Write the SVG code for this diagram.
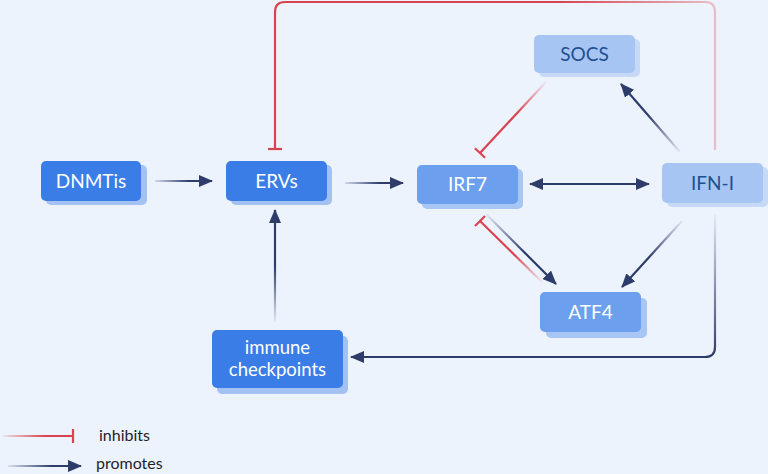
<svg xmlns="http://www.w3.org/2000/svg" width="768" height="474" viewBox="0 0 768 474">
<style>
.bg{fill:#EDF3FC}
.d{fill:#3A7DE6}.ds{fill:#A3C1F2}
.m{fill:#6C9FEE}.ms{fill:#A8C6F4}
.l{fill:#A7C5F3}.ls{fill:#C6D9F7}
.tw{font-family:Lato,"Open Sans","Liberation Sans",sans-serif;font-size:19px;fill:#FFFFFF;text-anchor:middle}
.tb{font-family:Lato,"Open Sans","Liberation Sans",sans-serif;font-size:19px;fill:#1F4F8E;text-anchor:middle}
.tc{font-family:Lato,"Open Sans","Liberation Sans",sans-serif;font-size:18.5px;fill:#FFFFFF;text-anchor:middle}
.lg{font-family:Lato,"Open Sans","Liberation Sans",sans-serif;font-size:16px;fill:#1E1E2A}
.e{fill:none;stroke-width:2.2}
</style>
<defs>
<marker id="ah" markerUnits="userSpaceOnUse" markerWidth="14" markerHeight="12" refX="13" refY="6" orient="auto-start-reverse" viewBox="0 0 14 12">
<path d="M0,0 L14,6 L0,12 Z" fill="#2D3C6A"/>
</marker>
<linearGradient id="g1" gradientUnits="userSpaceOnUse" x1="155" y1="181" x2="212" y2="181"><stop offset="0" stop-color="#2D3C6A" stop-opacity="0.15"/><stop offset="0.6" stop-color="#2D3C6A"/></linearGradient>
<linearGradient id="g2" gradientUnits="userSpaceOnUse" x1="345" y1="183" x2="403" y2="183"><stop offset="0" stop-color="#2D3C6A" stop-opacity="0.15"/><stop offset="0.6" stop-color="#2D3C6A"/></linearGradient>
<linearGradient id="g3" gradientUnits="userSpaceOnUse" x1="680" y1="152" x2="621" y2="84"><stop offset="0" stop-color="#2D3C6A" stop-opacity="0.05"/><stop offset="0.55" stop-color="#2D3C6A"/></linearGradient>
<linearGradient id="g4" gradientUnits="userSpaceOnUse" x1="546" y1="82" x2="480" y2="153"><stop offset="0" stop-color="#D9434F" stop-opacity="0.05"/><stop offset="0.45" stop-color="#D9434F"/></linearGradient>
<linearGradient id="g5" gradientUnits="userSpaceOnUse" x1="486" y1="214" x2="556" y2="284"><stop offset="0" stop-color="#2D3C6A" stop-opacity="0.05"/><stop offset="0.55" stop-color="#2D3C6A"/></linearGradient>
<linearGradient id="g6" gradientUnits="userSpaceOnUse" x1="542" y1="282" x2="480" y2="221"><stop offset="0" stop-color="#D9434F" stop-opacity="0.05"/><stop offset="0.45" stop-color="#D9434F"/></linearGradient>
<linearGradient id="g7" gradientUnits="userSpaceOnUse" x1="682" y1="221" x2="622" y2="287"><stop offset="0" stop-color="#2D3C6A" stop-opacity="0.05"/><stop offset="0.55" stop-color="#2D3C6A"/></linearGradient>
<linearGradient id="g8" gradientUnits="userSpaceOnUse" x1="275" y1="322" x2="275" y2="210"><stop offset="0" stop-color="#2D3C6A" stop-opacity="0.05"/><stop offset="0.5" stop-color="#2D3C6A"/></linearGradient>
<linearGradient id="g9" gradientUnits="userSpaceOnUse" x1="715" y1="215" x2="715" y2="357"><stop offset="0" stop-color="#2D3C6A" stop-opacity="0.05"/><stop offset="1" stop-color="#2D3C6A"/></linearGradient>
<linearGradient id="g10" gradientUnits="userSpaceOnUse" x1="716" y1="0" x2="560" y2="0"><stop offset="0" stop-color="#D9434F" stop-opacity="0.3"/><stop offset="1" stop-color="#D9434F"/></linearGradient>
<linearGradient id="g11" gradientUnits="userSpaceOnUse" x1="3" y1="0" x2="73" y2="0"><stop offset="0" stop-color="#D9434F" stop-opacity="0.1"/><stop offset="0.6" stop-color="#D9434F"/></linearGradient>
<linearGradient id="g12" gradientUnits="userSpaceOnUse" x1="8" y1="0" x2="81" y2="0"><stop offset="0" stop-color="#2D3C6A" stop-opacity="0.1"/><stop offset="0.6" stop-color="#2D3C6A"/></linearGradient>
</defs>
<rect class="bg" x="0" y="0" width="768" height="474"/>

<g id="connectors">
<line class="e" x1="155" y1="181" x2="212" y2="181" stroke="url(#g1)" marker-end="url(#ah)"/>
<line class="e" x1="345" y1="183" x2="403" y2="183" stroke="url(#g2)" marker-end="url(#ah)"/>
<line class="e" x1="530" y1="184" x2="649" y2="184" stroke="#2D3C6A" marker-start="url(#ah)" marker-end="url(#ah)"/>
<line class="e" x1="680" y1="152" x2="621" y2="84" stroke="url(#g3)" marker-end="url(#ah)"/>
<line class="e" x1="546" y1="82" x2="480" y2="153" stroke="url(#g4)"/>
<line x1="474.9" y1="148.3" x2="485.1" y2="157.7" stroke="#D9434F" stroke-width="2.2"/>
<line class="e" x1="486" y1="214" x2="556" y2="284" stroke="url(#g5)" marker-end="url(#ah)"/>
<line class="e" x1="542" y1="282" x2="480" y2="221" stroke="url(#g6)"/>
<line x1="475" y1="226" x2="485" y2="216" stroke="#D9434F" stroke-width="2.2"/>
<line class="e" x1="682" y1="221" x2="622" y2="287" stroke="url(#g7)" marker-end="url(#ah)"/>
<line class="e" x1="275" y1="322" x2="275" y2="210" stroke="url(#g8)" marker-end="url(#ah)"/>
<path class="e" d="M715,215 L715,347 Q715,357 705,357 L351,357" stroke="url(#g9)" marker-end="url(#ah)"/>
<path class="e" d="M715,150 L715,12 Q715,2 705,2 L285,2 Q275,2 275,12 L275,149" stroke="url(#g10)"/>
<line x1="268" y1="149" x2="282" y2="149" stroke="#D9434F" stroke-width="2.2"/>
</g>

<g id="DNMTis"><rect class="ds" x="46" y="165" width="101" height="40" rx="5"/><rect class="d" x="41" y="161" width="100" height="40" rx="5"/><text class="tw" x="91" y="188">DNMTis</text></g>
<g id="ERVs"><rect class="ds" x="231" y="165" width="101" height="40" rx="5"/><rect class="d" x="226" y="161" width="101" height="40" rx="5"/><text class="tw" x="276.5" y="188">ERVs</text></g>
<g id="IRF7"><rect class="ms" x="422" y="169" width="101" height="40" rx="5"/><rect class="m" x="417" y="165" width="101" height="39" rx="5"/><text class="tw" x="467.5" y="191">IRF7</text></g>
<g id="IFN-I"><rect class="ls" x="667" y="167" width="101" height="40" rx="5"/><rect class="l" x="662" y="163" width="101" height="40" rx="5"/><text class="tb" x="712.5" y="190">IFN-I</text></g>
<g id="SOCS"><rect class="ls" x="539" y="39" width="101" height="38" rx="5"/><rect class="l" x="534" y="35" width="101" height="38" rx="5"/><text class="tb" x="584.5" y="61">SOCS</text></g>
<g id="ATF4"><rect class="ms" x="546" y="298" width="101" height="40" rx="5"/><rect class="m" x="540" y="292" width="101" height="40" rx="5"/><text class="tw" x="590.5" y="319">ATF4</text></g>
<g id="immune-checkpoints"><rect class="ds" x="217" y="336" width="131" height="58" rx="5"/><rect class="d" x="212" y="330" width="131" height="58" rx="5"/><text class="tc" x="277.5" y="354">immune</text><text class="tc" x="277.5" y="376">checkpoints</text></g>

<g id="legend">
<line x1="3" y1="436" x2="73" y2="436" stroke="url(#g11)" stroke-width="2.2"/>
<line x1="73" y1="429" x2="73" y2="443" stroke="#D9434F" stroke-width="2.2"/>
<text class="lg" x="99" y="441">inhibits</text>
<line x1="8" y1="466" x2="81" y2="466" stroke="url(#g12)" stroke-width="2.2" marker-end="url(#ah)"/>
<text class="lg" x="96" y="469">promotes</text>
</g>
</svg>
